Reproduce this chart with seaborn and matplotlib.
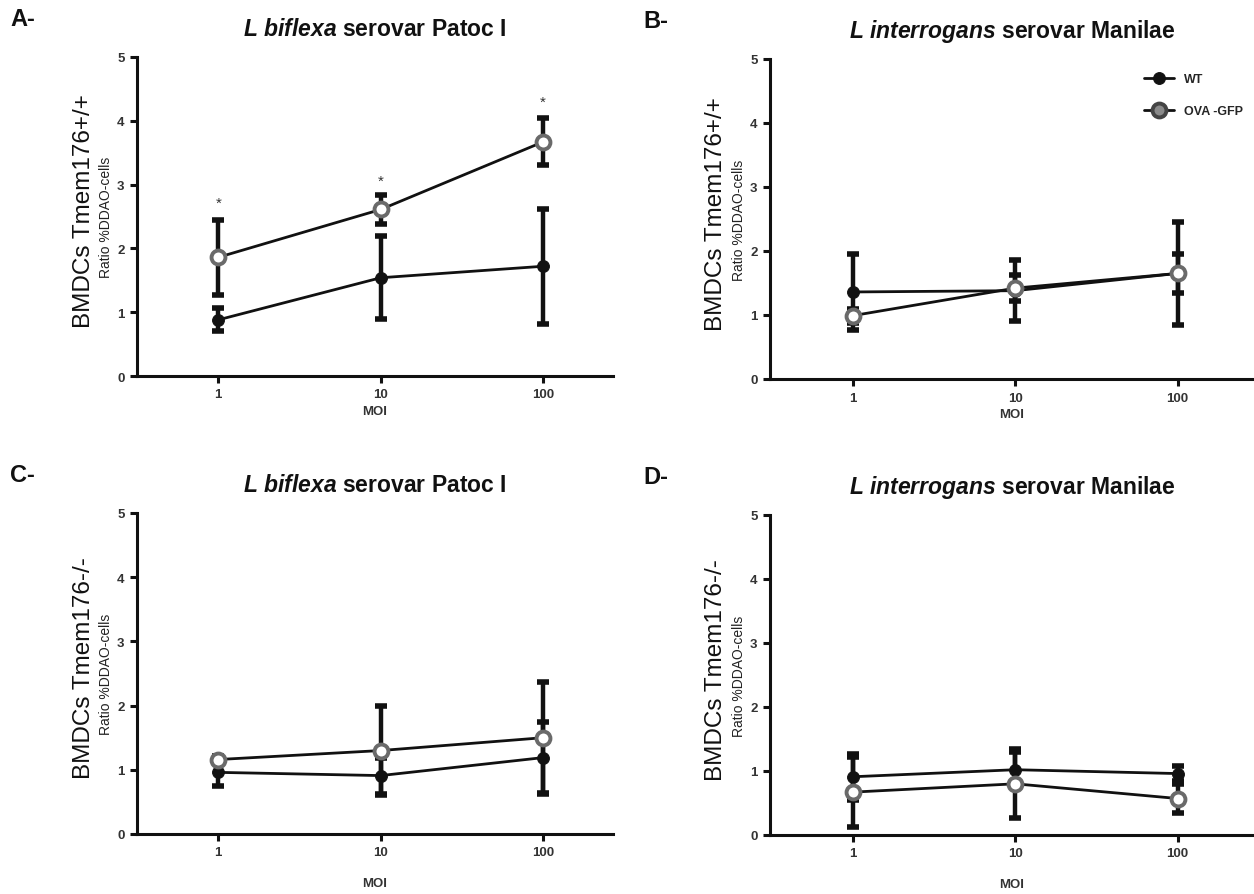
import numpy as np
import pandas as pd
import matplotlib
matplotlib.use("Agg")
import matplotlib.pyplot as plt
import seaborn as sns

# ---------------- data ----------------
moi = [1, 10, 100]
moi_labels = ["1", "10", "100"]
series_names = ["WT", "OVA -GFP"]

# Panel A  (Tmem176+/+, L biflexa)
a_wt = [0.88, 1.54, 1.72]
a_wt_err = [0.18, 0.65, 0.90]
a_ova = [1.86, 2.61, 3.67]
a_ova_err = [0.59, 0.22, 0.37]
a_star_y = [2.72, 3.06, 4.30]

# Panel B  (Tmem176+/+, L interrogans)
b_wt = [1.36, 1.38, 1.65]
b_wt_err = [0.59, 0.48, 0.80]
b_ova = [0.99, 1.42, 1.65]
b_ova_err = [0.11, 0.20, 0.30]

# Panel C  (Tmem176-/-, L biflexa)
c_wt = [0.96, 0.91, 1.19]
c_wt_err = [0.22, 0.28, 0.56]
c_ova = [1.16, 1.30, 1.50]
c_ova_err = [0.05, 0.69, 0.86]

# Panel D  (Tmem176-/-, L interrogans)
d_wt = [0.91, 1.02, 0.96]
d_wt_err = [0.36, 0.27, 0.12]
d_ova = [0.67, 0.80, 0.57]
d_ova_err = [0.55, 0.54, 0.23]

panel_letters = ["A-", "B-", "C-", "D-"]
species = ["biflexa", "interrogans", "biflexa", "interrogans"]
serovars = ["serovar Patoc I", "serovar Manilae", "serovar Patoc I", "serovar Manilae"]
genotypes = ["BMDCs Tmem176+/+", "BMDCs Tmem176+/+", "BMDCs Tmem176-/-", "BMDCs Tmem176-/-"]
ylabel_small = "Ratio %DDAO-cells"
xlabel = "MOI"
yticks = [0, 1, 2, 3, 4, 5]

# ---------------- style ----------------
sns.set_style("ticks")
plt.rcParams["font.family"] = ["Liberation Sans", "DejaVu Sans"]
plt.rcParams["mathtext.fontset"] = "custom"
plt.rcParams["mathtext.bfit"] = "Liberation Sans:italic:bold"
plt.rcParams["mathtext.it"] = "Liberation Sans:italic"
plt.rcParams["mathtext.rm"] = "Liberation Sans"

fig = plt.figure(figsize=(12.54, 8.95), dpi=100)

W, H = 1254.0, 895.0
# (left px, right px, y0 px, y5 px)
boxes = [(137, 613, 377, 58), (770, 1254, 380, 60),
         (137, 613, 835, 514), (770, 1254, 836, 516)]
xl = [(10 ** -0.50, 10 ** 2.43), (10 ** -0.51, 10 ** 2.47),
      (10 ** -0.50, 10 ** 2.43), (10 ** -0.51, 10 ** 2.47)]
moi_pad = [3, 3, 13, 13]

data_sets = [(a_wt, a_wt_err, a_ova, a_ova_err),
             (b_wt, b_wt_err, b_ova, b_ova_err),
             (c_wt, c_wt_err, c_ova, c_ova_err),
             (d_wt, d_wt_err, d_ova, d_ova_err)]

ink = "#111111"
gray = "#6a6a6a"

for i, (box, lim, ds) in enumerate(zip(boxes, xl, data_sets)):
    l, r, y0, y5 = box
    ax = fig.add_axes([l / W, 1 - y0 / H, (r - l) / W, (y0 - y5) / H])
    wt, wt_err, ova, ova_err = ds
    df = pd.DataFrame({"MOI": moi * 2,
                       "Ratio": list(wt) + list(ova),
                       "Strain": [series_names[0]] * 3 + [series_names[1]] * 3})

    # error bars
    ax.errorbar(moi, wt, yerr=wt_err, fmt="none", ecolor=ink, elinewidth=3.2,
                capsize=4, capthick=4, zorder=2)
    ax.errorbar(moi, ova, yerr=ova_err, fmt="none", ecolor=ink, elinewidth=3.2,
                capsize=4, capthick=4, zorder=2)

    sns.lineplot(data=df[df.Strain == series_names[0]], x="MOI", y="Ratio",
                 color=ink, lw=2.0, marker="o", markersize=8.5,
                 markerfacecolor=ink, markeredgecolor=ink, ax=ax,
                 label=series_names[0], zorder=3)
    sns.lineplot(data=df[df.Strain == series_names[1]], x="MOI", y="Ratio",
                 color=ink, lw=2.0, marker="o", markersize=10,
                 markerfacecolor="white", markeredgecolor=gray, markeredgewidth=2.8,
                 ax=ax, label=series_names[1], zorder=4)

    ax.set_xscale("log")
    ax.set_xlim(*lim)
    ax.set_ylim(0, 5)
    ax.set_xticks(moi)
    ax.set_xticklabels(moi_labels)
    ax.minorticks_off()
    ax.set_yticks(yticks)
    ax.set_yticklabels([str(t) for t in yticks])
    for sp in ["top", "right"]:
        ax.spines[sp].set_visible(False)
    for sp in ["left", "bottom"]:
        ax.spines[sp].set_linewidth(2.2)
        ax.spines[sp].set_color(ink)
    ax.tick_params(axis="both", width=2.2, length=5, color=ink,
                   labelsize=9.5, labelcolor="#333333", pad=4)
    for lab in ax.get_xticklabels() + ax.get_yticklabels():
        lab.set_fontweight("bold")

    ax.set_xlabel(xlabel, fontsize=9.5, fontweight="bold", color="#333333",
                  labelpad=moi_pad[i])
    ax.set_ylabel(ylabel_small, fontsize=10, color="#222222", labelpad=3)
    ax.text(-0.112, 0.52, genotypes[i], transform=ax.transAxes, rotation=90,
            ha="center", va="center", fontsize=17.5, color="#111111")

    title = r"$\mathbfit{L\ " + species[i] + "}$ " + serovars[i]
    ax.set_title(title, fontsize=16.5, fontweight="bold", color="#111111", pad=16)

    if i == 1:
        leg = ax.legend(loc="upper right", bbox_to_anchor=(1.0, 0.99), frameon=False,
                        handlelength=2.4, labelspacing=1.6,
                        prop={"weight": "bold", "size": 9})
        for h in leg.legend_handles[1:]:
            h.set_markerfacecolor("#8a8a8a")
            h.set_markeredgecolor("#444444")
    else:
        leg = ax.get_legend()
        if leg is not None:
            leg.remove()

    if i == 0:
        for x, y in zip(moi, a_star_y):
            ax.text(x, y, "*", ha="center", va="center", fontsize=11, color="#333333")

    fig.text((l - 127) / W, 1 - (y5 - 38) / H, panel_letters[i], fontsize=17,
             fontweight="bold", ha="left", va="center", color="#111111")

fig.savefig("out.png", dpi=100)
